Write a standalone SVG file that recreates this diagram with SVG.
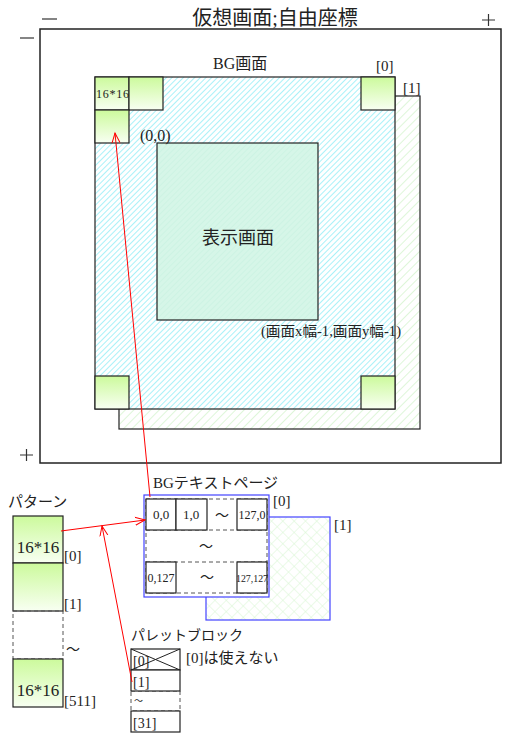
<svg xmlns="http://www.w3.org/2000/svg" width="512" height="737" viewBox="0 0 512 737">
<style>
text{font-family:"Liberation Serif","Noto Sans CJK JP",serif;fill:#222}
.box{stroke:#222;stroke-width:1.2}
.dash{fill:none;stroke:#555;stroke-width:1;stroke-dasharray:4,3}
.arr{stroke:#f00;stroke-width:1;fill:none;marker-end:url(#ah)}
.pm{stroke:#333;stroke-width:1.2}
</style>
<defs>
<linearGradient id="tile" x1="0" y1="0" x2="0" y2="1">
<stop offset="0" stop-color="#ccfa9c"/><stop offset="1" stop-color="#f8fff2"/>
</linearGradient>
<pattern id="hc" width="4" height="4" patternUnits="userSpaceOnUse" patternTransform="rotate(45)">
<rect width="4" height="4" fill="#fff"/><line x1="0" y1="0" x2="0" y2="4" stroke="#28dcee" stroke-width="0.8"/>
</pattern>
<pattern id="hg" width="6" height="6" patternUnits="userSpaceOnUse" patternTransform="rotate(45)">
<rect width="6" height="6" fill="#fff"/><line x1="0" y1="0" x2="0" y2="6" stroke="#c8f0c0" stroke-width="1.2"/>
</pattern>
<pattern id="hm" width="4" height="4" patternUnits="userSpaceOnUse" patternTransform="rotate(45)">
<rect width="4" height="4" fill="#d6f6e8"/><line x1="0" y1="0" x2="0" y2="4" stroke="#c4f0de" stroke-width="1"/>
</pattern>
<pattern id="xg" width="8" height="8" patternUnits="userSpaceOnUse" patternTransform="rotate(45)">
<rect width="8" height="8" fill="#fff"/><path d="M0,0V8M0,0H8" stroke="#d8f6d2" stroke-width="1"/>
</pattern>
<marker id="ah" markerWidth="12" markerHeight="12" refX="10" refY="5" orient="auto" markerUnits="userSpaceOnUse">
<path d="M0,1 L10,5 L0,9" fill="none" stroke="#f00" stroke-width="1"/>
</marker>
</defs>

<g id="virtual">
<rect x="40" y="29" width="461" height="434" fill="#fff" stroke="#222" stroke-width="1.5"/>
<text x="275" y="25" font-size="20" text-anchor="middle">仮想画面;自由座標</text>
<line x1="42" y1="19" x2="57" y2="19" class="pm"/>
<path d="M482,20H495M488.5,14V26" class="pm"/>
<line x1="20" y1="38" x2="34" y2="38" class="pm"/>
<path d="M20,455H33M26.5,449V461" class="pm"/>
</g>

<g id="bg1">
<rect x="119" y="96" width="301" height="333" fill="url(#hg)" stroke="#222" stroke-width="1.2"/>
<text x="403" y="93" font-size="15">[1]</text>
</g>

<g id="bg0">
<rect x="95" y="77" width="300" height="332" fill="url(#hc)" stroke="#222" stroke-width="1.2"/>
<text x="213" y="69" font-size="16">BG画面</text>
<text x="376" y="71" font-size="15">[0]</text>
<rect x="95" y="77" width="34" height="33" fill="url(#tile)" class="box"/>
<rect x="129" y="77" width="34" height="33" fill="url(#tile)" class="box"/>
<rect x="95" y="110" width="34" height="33" fill="url(#tile)" class="box"/>
<rect x="361" y="77" width="34" height="33" fill="url(#tile)" class="box"/>
<rect x="95" y="376" width="34" height="33" fill="url(#tile)" class="box"/>
<rect x="361" y="376" width="34" height="33" fill="url(#tile)" class="box"/>
<text x="96" y="98" font-size="12" textLength="33">16*16</text>
</g>

<g id="display">
<rect x="157" y="143" width="161" height="177" fill="url(#hm)" stroke="#222" stroke-width="1.2"/>
<text x="140" y="141" font-size="16">(0,0)</text>
<text x="238" y="244" font-size="18" text-anchor="middle">表示画面</text>
<text x="261" y="336" font-size="14" textLength="140" lengthAdjust="spacingAndGlyphs">(画面x幅-1,画面y幅-1)</text>
</g>

<g id="textpage1">
<rect x="206" y="517" width="124" height="103" fill="url(#xg)" stroke="#4444ff" stroke-width="1.2"/>
<text x="334" y="530" font-size="15">[1]</text>
</g>

<g id="textpage0">
<rect x="144" y="495" width="125" height="102" fill="#fff" stroke="#4444ff" stroke-width="1.2"/>
<text x="153" y="488" font-size="15">BGテキストページ</text>
<text x="273" y="506" font-size="15">[0]</text>
<rect x="146" y="499" width="121" height="94" class="dash"/>
<line x1="146" y1="530" x2="267" y2="530" class="dash"/>
<line x1="146" y1="562" x2="267" y2="562" class="dash"/>
<rect x="146" y="499" width="30" height="31" fill="#fff" class="box"/>
<rect x="176" y="499" width="31" height="31" fill="#fff" class="box"/>
<rect x="237" y="499" width="30" height="31" fill="#fff" class="box"/>
<rect x="146" y="562" width="30" height="31" fill="#fff" class="box"/>
<rect x="237" y="562" width="30" height="31" fill="#fff" class="box"/>
<text x="161" y="519" font-size="13" text-anchor="middle">0,0</text>
<text x="191" y="519" font-size="13" text-anchor="middle">1,0</text>
<text x="222" y="520" font-size="14" text-anchor="middle">～</text>
<text x="252" y="519" font-size="12" text-anchor="middle">127,0</text>
<text x="206" y="551" font-size="14" text-anchor="middle">～</text>
<text x="161" y="582" font-size="12" text-anchor="middle">0,127</text>
<text x="207" y="582" font-size="14" text-anchor="middle">～</text>
<text x="252" y="582" font-size="11" text-anchor="middle" textLength="32" lengthAdjust="spacingAndGlyphs">127,127</text>
</g>

<g id="pattern">
<text x="8" y="507" font-size="15">パターン</text>
<rect x="13" y="516" width="50" height="47" fill="url(#tile)" class="box"/>
<rect x="13" y="563" width="50" height="48" fill="url(#tile)" class="box"/>
<rect x="13" y="611" width="50" height="48" class="dash"/>
<rect x="13" y="659" width="50" height="48" fill="url(#tile)" class="box"/>
<text x="38" y="553" font-size="17" text-anchor="middle">16*16</text>
<text x="38" y="696" font-size="17" text-anchor="middle">16*16</text>
<text x="64" y="561" font-size="15">[0]</text>
<text x="64" y="609" font-size="15">[1]</text>
<text x="66" y="654" font-size="14">～</text>
<text x="64" y="706" font-size="15">[511]</text>
</g>

<g id="palette">
<text x="131" y="640" font-size="14">パレットブロック</text>
<rect x="131" y="691" width="49" height="20" class="dash"/>
<rect x="131" y="649" width="49" height="21" fill="#fff" class="box"/>
<line x1="131" y1="649" x2="180" y2="670" stroke="#222" stroke-width="1"/>
<line x1="131" y1="670" x2="180" y2="649" stroke="#222" stroke-width="1"/>
<rect x="131" y="670" width="49" height="21" fill="#fff" class="box"/>
<rect x="131" y="711" width="49" height="21" fill="#fff" class="box"/>
<text x="133" y="666" font-size="14">[0]</text>
<text x="133" y="687" font-size="14">[1]</text>
<text x="134" y="704" font-size="9">～</text>
<text x="133" y="728" font-size="14">[31]</text>
<text x="186" y="663" font-size="15">[0]は使えない</text>
</g>

<g id="connectors">
<line x1="150" y1="497" x2="115" y2="133" class="arr"/>
<line x1="61" y1="531" x2="145" y2="520" class="arr"/>
<line x1="132" y1="682" x2="102" y2="526" class="arr"/>
</g>
</svg>
